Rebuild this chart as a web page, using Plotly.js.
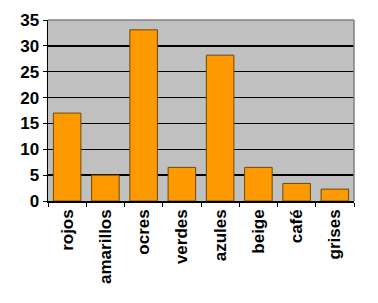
<!DOCTYPE html>
<html><head><meta charset="utf-8">
<script src="https://cdn.plot.ly/plotly-3.0.1.min.js"></script>
<style>html,body{margin:0;padding:0;background:#fff}#c{width:378px;height:303px}</style>
</head><body><div id="c"></div>
<script>
const categories = ["rojos","amarillos","ocres","verdes","azules","beige","café","grises"];
const values = [17, 5, 33.1, 6.5, 28.2, 6.5, 3.4, 2.3];
const yTicks = [0,5,10,15,20,25,30,35];

Plotly.newPlot('c', [{
  type: 'bar', x: categories, y: values,
  marker: {color: '#ff9900', line: {color: '#6b4a00', width: 1}},
  width: 0.72
}], {
  width: 378, height: 303,
  margin: {l: 48, r: 24, t: 20, b: 102},
  paper_bgcolor: '#ffffff', plot_bgcolor: '#c0c0c0',
  showlegend: false,
  font: {family: 'Liberation Sans', color: '#000'},
  xaxis: {
    type: 'category', tickangle: -90, tickson: 'boundaries',
    ticks: 'outside', ticklen: 4, tickcolor: '#000',
    showline: true, linecolor: '#000', linewidth: 1.5,
    tickfont: {family: 'Liberation Sans', size: 17, weight: 'bold', color: '#000'},
    showgrid: false
  },
  yaxis: {
    range: [0, 35], tickvals: yTicks,
    ticks: 'outside', ticklen: 4, tickcolor: '#000',
    showline: true, linecolor: '#000', linewidth: 1.5,
    gridcolor: '#000', gridwidth: 1.5,
    tickfont: {family: 'Liberation Sans', size: 17, weight: 'bold', color: '#000'},
    zeroline: false
  },
  shapes: [
    {type: 'line', xref: 'paper', yref: 'paper', x0: 0, x1: 1, y0: 1, y1: 1,
     line: {color: '#808080', width: 1.5}, layer: 'above'},
    {type: 'line', xref: 'paper', yref: 'paper', x0: 1, x1: 1, y0: 0, y1: 1,
     line: {color: '#808080', width: 1.5}, layer: 'above'}
  ]
}, {displayModeBar: false, staticPlot: true});
</script></body></html>
